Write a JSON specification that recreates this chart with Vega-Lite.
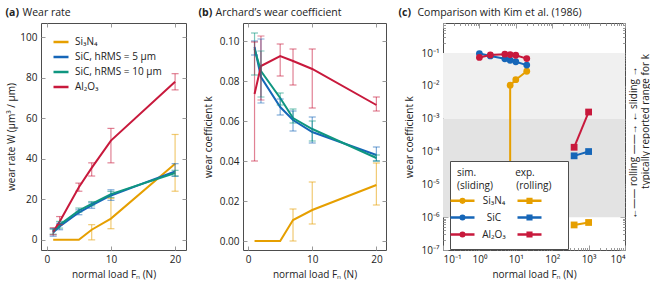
{
  "$schema": "https://vega.github.io/schema/vega-lite/v6.json",
  "padding": {"left": 4, "top": 6, "right": 0, "bottom": 0},
  "spacing": 10,
  "config": {
    "font": "Open Sans",
    "view": {"stroke": "#4d4d4d", "strokeWidth": 1},
    "axis": {"labelFontSize": 10, "titleFontSize": 10, "labelColor": "#222", "titleColor": "#222", "tickColor": "#9a9a9a", "tickWidth": 1, "domain": false, "grid": false, "titleFontWeight": "normal", "zindex": 1},
    "legend": {"labelFontSize": 10, "labelColor": "#222", "titleFontWeight": "normal", "titleColor": "#222", "titleFontSize": 10}
  },
  "resolve": {"scale": {"color": "independent"}, "legend": {"color": "independent"}},
  "datasets": {
    "ab": [
      {"material": "Si₃N₄", "load": 1, "W": 0, "Wlo": null, "Whi": null, "k": 0, "klo": null, "khi": null},
      {"material": "Si₃N₄", "load": 2, "W": 0, "Wlo": null, "Whi": null, "k": 0, "klo": null, "khi": null},
      {"material": "Si₃N₄", "load": 5, "W": 0, "Wlo": null, "Whi": null, "k": 0, "klo": null, "khi": null},
      {"material": "Si₃N₄", "load": 7, "W": 5, "Wlo": 0, "Whi": 7.5, "k": 0.0105, "klo": 0, "khi": 0.016},
      {"material": "Si₃N₄", "load": 10, "W": 10.5, "Wlo": 5.5, "Whi": 20.5, "k": 0.0155, "klo": 0.0085, "khi": 0.0295},
      {"material": "Si₃N₄", "load": 20, "W": 37.5, "Wlo": 24, "Whi": 52, "k": 0.028, "klo": 0.018, "khi": 0.039},
      {"material": "SiC, hRMS = 5 µm", "load": 1, "W": 3.6, "Wlo": 1.8, "Whi": 5.6, "k": 0.097, "klo": 0.093, "khi": 0.1},
      {"material": "SiC, hRMS = 5 µm", "load": 2, "W": 6.6, "Wlo": 5, "Whi": 8.2, "k": 0.082, "klo": 0.069, "khi": 0.101},
      {"material": "SiC, hRMS = 5 µm", "load": 5, "W": 13.5, "Wlo": 12.4, "Whi": 14.8, "k": 0.067, "klo": 0.063, "khi": 0.071},
      {"material": "SiC, hRMS = 5 µm", "load": 7, "W": 17, "Wlo": 15.6, "Whi": 18.3, "k": 0.0605, "klo": 0.055, "khi": 0.065},
      {"material": "SiC, hRMS = 5 µm", "load": 10, "W": 21.9, "Wlo": 19.5, "Whi": 24.7, "k": 0.0545, "klo": 0.049, "khi": 0.062},
      {"material": "SiC, hRMS = 5 µm", "load": 20, "W": 33.8, "Wlo": 31.3, "Whi": 37.6, "k": 0.043, "klo": 0.04, "khi": 0.047},
      {"material": "SiC, hRMS = 10 µm", "load": 1, "W": 4.1, "Wlo": 2.8, "Whi": 5.3, "k": 0.096, "klo": 0.083, "khi": 0.104},
      {"material": "SiC, hRMS = 10 µm", "load": 2, "W": 7.4, "Wlo": 5.8, "Whi": 9.1, "k": 0.085, "klo": 0.072, "khi": 0.095},
      {"material": "SiC, hRMS = 10 µm", "load": 5, "W": 14.5, "Wlo": 13.7, "Whi": 15.7, "k": 0.0715, "klo": 0.068, "khi": 0.074},
      {"material": "SiC, hRMS = 10 µm", "load": 7, "W": 17.8, "Wlo": 16.8, "Whi": 18.9, "k": 0.0615, "klo": 0.059, "khi": 0.066},
      {"material": "SiC, hRMS = 10 µm", "load": 10, "W": 22.6, "Wlo": 20.9, "Whi": 23.9, "k": 0.056, "klo": 0.05, "khi": 0.06},
      {"material": "SiC, hRMS = 10 µm", "load": 20, "W": 33, "Wlo": 31.6, "Whi": 34.3, "k": 0.0415, "klo": 0.04, "khi": 0.043},
      {"material": "Al₂O₃", "load": 1, "W": 4, "Wlo": 2.5, "Whi": 6, "k": 0.0735, "klo": 0.04, "khi": 0.0995},
      {"material": "Al₂O₃", "load": 2, "W": 9, "Wlo": 7.5, "Whi": 11.5, "k": 0.0875, "klo": 0.0705, "khi": 0.1025},
      {"material": "Al₂O₃", "load": 5, "W": 26, "Wlo": 24, "Whi": 28, "k": 0.0925, "klo": 0.0825, "khi": 0.0985},
      {"material": "Al₂O₃", "load": 7, "W": 35.5, "Wlo": 31.5, "Whi": 38, "k": 0.09, "klo": 0.078, "khi": 0.096},
      {"material": "Al₂O₃", "load": 10, "W": 49, "Wlo": 38, "Whi": 55, "k": 0.086, "klo": 0.0665, "khi": 0.096},
      {"material": "Al₂O₃", "load": 20, "W": 78, "Wlo": 74, "Whi": 82, "k": 0.068, "klo": 0.065, "khi": 0.072}
    ],
    "c": [
      {"series": "sim Si₃N₄", "kind": "sim", "load": 7, "k": 0.0105},
      {"series": "sim Si₃N₄", "kind": "sim", "load": 10, "k": 0.0155},
      {"series": "sim Si₃N₄", "kind": "sim", "load": 20, "k": 0.028},
      {"series": "sim SiC", "kind": "sim", "load": 1, "k": 0.097},
      {"series": "sim SiC", "kind": "sim", "load": 2, "k": 0.082},
      {"series": "sim SiC", "kind": "sim", "load": 5, "k": 0.067},
      {"series": "sim SiC", "kind": "sim", "load": 7, "k": 0.0605},
      {"series": "sim SiC", "kind": "sim", "load": 10, "k": 0.0545},
      {"series": "sim SiC", "kind": "sim", "load": 20, "k": 0.043},
      {"series": "sim Al₂O₃", "kind": "sim", "load": 1, "k": 0.0735},
      {"series": "sim Al₂O₃", "kind": "sim", "load": 2, "k": 0.0875},
      {"series": "sim Al₂O₃", "kind": "sim", "load": 5, "k": 0.0925},
      {"series": "sim Al₂O₃", "kind": "sim", "load": 7, "k": 0.09},
      {"series": "sim Al₂O₃", "kind": "sim", "load": 10, "k": 0.086},
      {"series": "sim Al₂O₃", "kind": "sim", "load": 20, "k": 0.068},
      {"series": "exp Si₃N₄", "kind": "exp", "load": 400, "k": 5.8e-7},
      {"series": "exp Si₃N₄", "kind": "exp", "load": 1000, "k": 6.9e-7},
      {"series": "exp SiC", "kind": "exp", "load": 400, "k": 7.4e-5},
      {"series": "exp SiC", "kind": "exp", "load": 1000, "k": 1.0e-4},
      {"series": "exp Al₂O₃", "kind": "exp", "load": 400, "k": 1.35e-4},
      {"series": "exp Al₂O₃", "kind": "exp", "load": 1000, "k": 1.6e-3}
    ],
    "bands": [
      {"regime": "sliding", "lo": 0.001, "hi": 0.1},
      {"regime": "rolling", "lo": 1e-6, "hi": 0.001}
    ]
  },
  "hconcat": [
    {
      "width": 145, "height": 227,
      "data": {"name": "ab"},
      "layer": [
        {"mark": {"type": "point", "opacity": 0},
         "encoding": {
           "x": {"field": "load", "type": "quantitative", "scale": {"domain": [-0.9, 21.7], "nice": false, "zero": false},
                 "axis": {"orient": "bottom", "values": [0, 10, 20], "tickSize": -4, "labelPadding": 8, "title": "normal load Fₙ (N)", "titlePadding": 5}},
           "y": {"field": "W", "type": "quantitative", "scale": {"domain": [-5, 107], "nice": false, "zero": false},
                 "axis": {"orient": "left", "values": [0, 20, 40, 60, 80, 100], "tickSize": -4, "labelPadding": 8, "title": "wear rate W (µm³ / µm)", "titlePadding": 4, "minExtent": 21, "maxExtent": 21}}
         }},
        {"mark": {"type": "point", "opacity": 0},
         "encoding": {
           "x": {"field": "load", "type": "quantitative", "scale": {"domain": [-0.9, 21.7], "nice": false, "zero": false},
                 "axis": {"orient": "top", "values": [0, 10, 20], "tickSize": -4, "labels": false, "title": "Wear rate", "titleX": -19, "titleY": -8, "titleAlign": "left", "titleBaseline": "alphabetic", "titleAngle": 0, "titleFontSize": 10.5, "minExtent": 0, "maxExtent": 0}},
           "y": {"field": "W", "type": "quantitative", "scale": {"domain": [-5, 107], "nice": false, "zero": false},
                 "axis": {"orient": "right", "values": [0, 20, 40, 60, 80, 100], "tickSize": -4, "labels": false, "title": null, "minExtent": 0, "maxExtent": 0}}
         }},
        {"mark": {"type": "point", "opacity": 0},
         "encoding": {
           "x": {"field": "load", "type": "quantitative", "scale": {"domain": [-0.9, 21.7], "nice": false, "zero": false},
                 "axis": {"orient": "top", "ticks": false, "labels": false, "title": "(a)", "titleX": -36, "titleY": -8, "titleAlign": "left", "titleBaseline": "alphabetic", "titleAngle": 0, "titleFontWeight": "bold", "titleFontSize": 10.5, "minExtent": 0, "maxExtent": 0}},
           "y": {"field": "W", "type": "quantitative", "scale": {"domain": [-5, 107], "nice": false, "zero": false}, "axis": null}
         }},
        {"mark": {"type": "line", "strokeWidth": 2},
         "encoding": {
           "x": {"field": "load", "type": "quantitative", "scale": {"domain": [-0.9, 21.7], "nice": false, "zero": false}, "axis": null},
           "y": {"field": "W", "type": "quantitative", "scale": {"domain": [-5, 107], "nice": false, "zero": false}, "axis": null},
           "color": {"field": "material", "type": "nominal",
                     "scale": {"domain": ["Si₃N₄", "SiC, hRMS = 5 µm", "SiC, hRMS = 10 µm", "Al₂O₃"], "range": ["#e69f00", "#1666b8", "#0f9680", "#c8193c"]},
                     "legend": {"orient": "none", "legendX": 11, "legendY": 10, "title": null, "symbolType": "stroke", "symbolSize": 225, "symbolStrokeWidth": 2.5, "rowPadding": 1, "labelOffset": 5, "padding": 0}}
         }},
        {"mark": {"type": "rule", "strokeWidth": 1.2, "opacity": 0.55},
         "encoding": {
           "x": {"field": "load", "type": "quantitative", "scale": {"domain": [-0.9, 21.7], "nice": false, "zero": false}, "axis": null},
           "y": {"field": "Wlo", "type": "quantitative", "scale": {"domain": [-5, 107], "nice": false, "zero": false}, "axis": null},
           "y2": {"field": "Whi"},
           "color": {"field": "material", "type": "nominal", "scale": {"domain": ["Si₃N₄", "SiC, hRMS = 5 µm", "SiC, hRMS = 10 µm", "Al₂O₃"], "range": ["#e69f00", "#1666b8", "#0f9680", "#c8193c"]}, "legend": null}
         }},
        {"mark": {"type": "tick", "orient": "horizontal", "size": 7, "thickness": 1.2, "opacity": 0.55},
         "encoding": {
           "x": {"field": "load", "type": "quantitative", "scale": {"domain": [-0.9, 21.7], "nice": false, "zero": false}, "axis": null},
           "y": {"field": "Wlo", "type": "quantitative", "scale": {"domain": [-5, 107], "nice": false, "zero": false}, "axis": null},
           "color": {"field": "material", "type": "nominal", "scale": {"domain": ["Si₃N₄", "SiC, hRMS = 5 µm", "SiC, hRMS = 10 µm", "Al₂O₃"], "range": ["#e69f00", "#1666b8", "#0f9680", "#c8193c"]}, "legend": null}
         }},
        {"mark": {"type": "tick", "orient": "horizontal", "size": 7, "thickness": 1.2, "opacity": 0.55},
         "encoding": {
           "x": {"field": "load", "type": "quantitative", "scale": {"domain": [-0.9, 21.7], "nice": false, "zero": false}, "axis": null},
           "y": {"field": "Whi", "type": "quantitative", "scale": {"domain": [-5, 107], "nice": false, "zero": false}, "axis": null},
           "color": {"field": "material", "type": "nominal", "scale": {"domain": ["Si₃N₄", "SiC, hRMS = 5 µm", "SiC, hRMS = 10 µm", "Al₂O₃"], "range": ["#e69f00", "#1666b8", "#0f9680", "#c8193c"]}, "legend": null}
         }}
      ],
      "resolve": {"axis": {"x": "independent", "y": "independent"}}
    },
    {
      "width": 143, "height": 227,
      "data": {"name": "ab"},
      "layer": [
        {"mark": {"type": "point", "opacity": 0},
         "encoding": {
           "x": {"field": "load", "type": "quantitative", "scale": {"domain": [-0.8, 21.5], "nice": false, "zero": false},
                 "axis": {"orient": "bottom", "values": [0, 10, 20], "tickSize": -4, "labelPadding": 8, "title": "normal load Fₙ (N)", "titlePadding": 5}},
           "y": {"field": "k", "type": "quantitative", "scale": {"domain": [-0.0045, 0.109], "nice": false, "zero": false},
                 "axis": {"orient": "left", "values": [0, 0.02, 0.04, 0.06, 0.08, 0.1], "format": ".2f", "tickSize": -4, "labelPadding": 8, "title": "wear coefficient k", "titlePadding": 5, "minExtent": 25, "maxExtent": 25}}
         }},
        {"mark": {"type": "point", "opacity": 0},
         "encoding": {
           "x": {"field": "load", "type": "quantitative", "scale": {"domain": [-0.8, 21.5], "nice": false, "zero": false},
                 "axis": {"orient": "top", "values": [0, 10, 20], "tickSize": -4, "labels": false, "title": "Archard’s wear coefficient", "titleX": -28, "titleY": -8, "titleAlign": "left", "titleBaseline": "alphabetic", "titleAngle": 0, "titleFontSize": 10.5, "minExtent": 0, "maxExtent": 0}},
           "y": {"field": "k", "type": "quantitative", "scale": {"domain": [-0.0045, 0.109], "nice": false, "zero": false},
                 "axis": {"orient": "right", "values": [0, 0.02, 0.04, 0.06, 0.08, 0.1], "tickSize": -4, "labels": false, "title": null, "minExtent": 0, "maxExtent": 0}}
         }},
        {"mark": {"type": "point", "opacity": 0},
         "encoding": {
           "x": {"field": "load", "type": "quantitative", "scale": {"domain": [-0.8, 21.5], "nice": false, "zero": false},
                 "axis": {"orient": "top", "ticks": false, "labels": false, "title": "(b)", "titleX": -45, "titleY": -8, "titleAlign": "left", "titleBaseline": "alphabetic", "titleAngle": 0, "titleFontWeight": "bold", "titleFontSize": 10.5, "minExtent": 0, "maxExtent": 0}},
           "y": {"field": "k", "type": "quantitative", "scale": {"domain": [-0.0045, 0.109], "nice": false, "zero": false}, "axis": null}
         }},
        {"mark": {"type": "line", "strokeWidth": 2},
         "encoding": {
           "x": {"field": "load", "type": "quantitative", "scale": {"domain": [-0.8, 21.5], "nice": false, "zero": false}, "axis": null},
           "y": {"field": "k", "type": "quantitative", "scale": {"domain": [-0.0045, 0.109], "nice": false, "zero": false}, "axis": null},
           "color": {"field": "material", "type": "nominal", "scale": {"domain": ["Si₃N₄", "SiC, hRMS = 5 µm", "SiC, hRMS = 10 µm", "Al₂O₃"], "range": ["#e69f00", "#1666b8", "#0f9680", "#c8193c"]}, "legend": null}
         }},
        {"mark": {"type": "rule", "strokeWidth": 1.2, "opacity": 0.55},
         "encoding": {
           "x": {"field": "load", "type": "quantitative", "scale": {"domain": [-0.8, 21.5], "nice": false, "zero": false}, "axis": null},
           "y": {"field": "klo", "type": "quantitative", "scale": {"domain": [-0.0045, 0.109], "nice": false, "zero": false}, "axis": null},
           "y2": {"field": "khi"},
           "color": {"field": "material", "type": "nominal", "scale": {"domain": ["Si₃N₄", "SiC, hRMS = 5 µm", "SiC, hRMS = 10 µm", "Al₂O₃"], "range": ["#e69f00", "#1666b8", "#0f9680", "#c8193c"]}, "legend": null}
         }},
        {"mark": {"type": "tick", "orient": "horizontal", "size": 7, "thickness": 1.2, "opacity": 0.55},
         "encoding": {
           "x": {"field": "load", "type": "quantitative", "scale": {"domain": [-0.8, 21.5], "nice": false, "zero": false}, "axis": null},
           "y": {"field": "klo", "type": "quantitative", "scale": {"domain": [-0.0045, 0.109], "nice": false, "zero": false}, "axis": null},
           "color": {"field": "material", "type": "nominal", "scale": {"domain": ["Si₃N₄", "SiC, hRMS = 5 µm", "SiC, hRMS = 10 µm", "Al₂O₃"], "range": ["#e69f00", "#1666b8", "#0f9680", "#c8193c"]}, "legend": null}
         }},
        {"mark": {"type": "tick", "orient": "horizontal", "size": 7, "thickness": 1.2, "opacity": 0.55},
         "encoding": {
           "x": {"field": "load", "type": "quantitative", "scale": {"domain": [-0.8, 21.5], "nice": false, "zero": false}, "axis": null},
           "y": {"field": "khi", "type": "quantitative", "scale": {"domain": [-0.0045, 0.109], "nice": false, "zero": false}, "axis": null},
           "color": {"field": "material", "type": "nominal", "scale": {"domain": ["Si₃N₄", "SiC, hRMS = 5 µm", "SiC, hRMS = 10 µm", "Al₂O₃"], "range": ["#e69f00", "#1666b8", "#0f9680", "#c8193c"]}, "legend": null}
         }}
      ],
      "resolve": {"axis": {"x": "independent", "y": "independent"}}
    },
    {
      "width": 182, "height": 227,
      "data": {"name": "c"},
      "layer": [
        {"data": {"name": "bands"},
         "mark": {"type": "rect"},
         "encoding": {
           "x": {"datum": 0.1, "type": "quantitative", "scale": {"type": "log", "domain": [0.1, 10000], "nice": false}, "axis": null},
           "x2": {"datum": 10000},
           "y": {"field": "lo", "type": "quantitative", "scale": {"type": "log", "domain": [1e-7, 0.826], "nice": false, "clamp": true}, "axis": null},
           "y2": {"field": "hi"},
           "fill": {"field": "regime", "type": "nominal", "scale": {"domain": ["sliding", "rolling"], "range": ["#f0f0f0", "#e3e3e3"]}, "legend": null}
         }},
        {"mark": {"type": "point", "opacity": 0},
         "encoding": {
           "x": {"field": "load", "type": "quantitative", "scale": {"type": "log", "domain": [0.1, 10000], "nice": false},
                 "axis": {"orient": "bottom", "values": [0.1, 1, 10, 100, 1000, 10000], "labelExpr": "'10' + (datum.value < 1 ? '⁻' : '') + ['⁰','¹','²','³','⁴','⁵','⁶','⁷','⁸','⁹'][round(abs(log(datum.value) / LN10))]", "tickSize": -5, "labelPadding": 9, "title": "normal load Fₙ (N)", "titlePadding": 5}},
           "y": {"field": "k", "type": "quantitative", "scale": {"type": "log", "domain": [1e-7, 0.826], "nice": false, "clamp": true},
                 "axis": {"orient": "left", "values": [1e-7, 1e-6, 1e-5, 1e-4, 1e-3, 1e-2, 1e-1], "labelExpr": "'10' + (datum.value < 1 ? '⁻' : '') + ['⁰','¹','²','³','⁴','⁵','⁶','⁷','⁸','⁹'][round(abs(log(datum.value) / LN10))]", "tickSize": -5, "labelPadding": 9, "title": "wear coefficient k", "titlePadding": 6, "minExtent": 23, "maxExtent": 23}}
         }},
        {"mark": {"type": "point", "opacity": 0},
         "encoding": {
           "x": {"field": "load", "type": "quantitative", "scale": {"type": "log", "domain": [0.1, 10000], "nice": false},
                 "axis": {"orient": "bottom", "values": [0.2, 0.3, 0.4, 0.5, 0.6, 0.7, 0.8, 0.9, 2, 3, 4, 5, 6, 7, 8, 9, 20, 30, 40, 50, 60, 70, 80, 90, 200, 300, 400, 500, 600, 700, 800, 900, 2000, 3000, 4000, 5000, 6000, 7000, 8000, 9000], "tickSize": -2.5, "labels": false, "title": null, "minExtent": 0, "maxExtent": 0}},
           "y": {"field": "k", "type": "quantitative", "scale": {"type": "log", "domain": [1e-7, 0.826], "nice": false, "clamp": true},
                 "axis": {"orient": "left", "values": [2e-7, 3e-7, 4e-7, 5e-7, 6e-7, 7e-7, 8e-7, 9e-7, 2e-6, 3e-6, 4e-6, 5e-6, 6e-6, 7e-6, 8e-6, 9e-6, 2e-5, 3e-5, 4e-5, 5e-5, 6e-5, 7e-5, 8e-5, 9e-5, 2e-4, 3e-4, 4e-4, 5e-4, 6e-4, 7e-4, 8e-4, 9e-4, 0.002, 0.003, 0.004, 0.005, 0.006, 0.007, 0.008, 0.009, 0.02, 0.03, 0.04, 0.05, 0.06, 0.07, 0.08, 0.09, 0.2, 0.3, 0.4, 0.5, 0.6, 0.7, 0.8], "tickSize": -2.5, "labels": false, "title": null, "minExtent": 0, "maxExtent": 0}}
         }},
        {"mark": {"type": "point", "opacity": 0},
         "encoding": {
           "x": {"field": "load", "type": "quantitative", "scale": {"type": "log", "domain": [0.1, 10000], "nice": false},
                 "axis": {"orient": "top", "values": [0.1, 1, 10, 100, 1000, 10000], "tickSize": -5, "labels": false, "title": "Comparison with Kim et al. (1986)", "titleX": -26, "titleY": -8, "titleAlign": "left", "titleBaseline": "alphabetic", "titleAngle": 0, "titleFontSize": 10.5, "minExtent": 0, "maxExtent": 0}},
           "y": {"field": "k", "type": "quantitative", "scale": {"type": "log", "domain": [1e-7, 0.826], "nice": false, "clamp": true},
                 "axis": {"orient": "right", "values": [1e-7, 1e-6, 1e-5, 1e-4, 1e-3, 1e-2, 1e-1], "tickSize": -5, "labels": false, "title": "←—— rolling ——→  ← sliding →", "titleX": 8, "titleY": 119, "titleAngle": 270, "titleBaseline": "middle", "titleAlign": "center", "minExtent": 0, "maxExtent": 0}}
         }},
        {"mark": {"type": "point", "opacity": 0},
         "encoding": {
           "x": {"field": "load", "type": "quantitative", "scale": {"type": "log", "domain": [0.1, 10000], "nice": false},
                 "axis": {"orient": "top", "values": [0.2, 0.3, 0.4, 0.5, 0.6, 0.7, 0.8, 0.9, 2, 3, 4, 5, 6, 7, 8, 9, 20, 30, 40, 50, 60, 70, 80, 90, 200, 300, 400, 500, 600, 700, 800, 900, 2000, 3000, 4000, 5000, 6000, 7000, 8000, 9000], "tickSize": -2.5, "labels": false, "title": "(c)", "titleX": -45, "titleY": -8, "titleAlign": "left", "titleBaseline": "alphabetic", "titleAngle": 0, "titleFontWeight": "bold", "titleFontSize": 10.5, "minExtent": 0, "maxExtent": 0}},
           "y": {"field": "k", "type": "quantitative", "scale": {"type": "log", "domain": [1e-7, 0.826], "nice": false, "clamp": true},
                 "axis": {"orient": "right", "values": [2e-7, 3e-7, 4e-7, 5e-7, 6e-7, 7e-7, 8e-7, 9e-7, 2e-6, 3e-6, 4e-6, 5e-6, 6e-6, 7e-6, 8e-6, 9e-6, 2e-5, 3e-5, 4e-5, 5e-5, 6e-5, 7e-5, 8e-5, 9e-5, 2e-4, 3e-4, 4e-4, 5e-4, 6e-4, 7e-4, 8e-4, 9e-4, 0.002, 0.003, 0.004, 0.005, 0.006, 0.007, 0.008, 0.009, 0.02, 0.03, 0.04, 0.05, 0.06, 0.07, 0.08, 0.09, 0.2, 0.3, 0.4, 0.5, 0.6, 0.7, 0.8], "tickSize": -2.5, "labels": false, "title": "typically reported range for k", "titleX": 20, "titleY": 98, "titleAngle": 270, "titleBaseline": "middle", "titleAlign": "center", "minExtent": 0, "maxExtent": 0}}
         }},
        {"mark": {"type": "line", "strokeWidth": 2},
         "encoding": {
           "x": {"field": "load", "type": "quantitative", "scale": {"type": "log", "domain": [0.1, 10000], "nice": false}, "axis": null},
           "y": {"field": "k", "type": "quantitative", "scale": {"type": "log", "domain": [1e-7, 0.826], "nice": false, "clamp": true}, "axis": null},
           "color": {"field": "series", "type": "nominal",
                     "scale": {"domain": ["sim Si₃N₄", "sim SiC", "sim Al₂O₃", "exp Si₃N₄", "exp SiC", "exp Al₂O₃"], "range": ["#e69f00", "#1666b8", "#c8193c", "#e69f00", "#1666b8", "#c8193c"]},
                     "legend": {
                       "orient": "none", "legendX": 7, "legendY": 138, "columns": 2,
                       "title": ["\u00a0\u00a0sim.\u00a0\u00a0\u00a0\u00a0\u00a0\u00a0\u00a0\u00a0\u00a0\u00a0\u00a0\u00a0\u00a0\u00a0\u00a0exp.", "(sliding)\u00a0\u00a0\u00a0\u00a0\u00a0\u00a0\u00a0\u00a0\u00a0(rolling)"], "titleLineHeight": 13, "titlePadding": 4,
                       "padding": 7, "strokeColor": "#4d4d4d", "fillColor": "white", "cornerRadius": 0,
                       "symbolSize": 64, "symbolStrokeWidth": 3,
                       "symbolType": "M-3,0H3M0.4,0A0.4,0.4,0,1,1,-0.4,0A0.4,0.4,0,1,1,0.4,0Z",
                       "labelAlign": "center", "labelOffset": 26, "rowPadding": 2, "columnPadding": 6,
                       "labelExpr": "indexof(datum.value, 'sim') == 0 ? slice(datum.value, 4) : ''",
                       "encode": {"symbols": {"update": {
                         "shape": {"signal": "indexof(datum.value, 'exp') == 0 ? 'M-3,0H3M-0.45,-0.45H0.45V0.45H-0.45Z' : 'M-3,0H3M0.45,0A0.45,0.45,0,1,1,-0.45,0A0.45,0.45,0,1,1,0.45,0Z'"},
                         "fill": {"signal": "indexof(datum.value, 'Si₃N₄') >= 0 ? '#e69f00' : indexof(datum.value, 'SiC') >= 0 ? '#1666b8' : '#c8193c'"},
                         "stroke": {"signal": "indexof(datum.value, 'Si₃N₄') >= 0 ? '#e69f00' : indexof(datum.value, 'SiC') >= 0 ? '#1666b8' : '#c8193c'"},
                         "strokeWidth": {"value": 2.5},
                         "opacity": {"value": 1}
                       }}}
                     }}
         }},
        {"transform": [{"filter": "datum.series == 'sim Si₃N₄' && datum.load == 7"}],
         "mark": {"type": "rule", "strokeWidth": 2},
         "encoding": {
           "x": {"field": "load", "type": "quantitative", "scale": {"type": "log", "domain": [0.1, 10000], "nice": false}, "axis": null},
           "y": {"field": "k", "type": "quantitative", "scale": {"type": "log", "domain": [1e-7, 0.826], "nice": false, "clamp": true}, "axis": null},
           "y2": {"datum": 0},
           "color": {"field": "series", "type": "nominal", "scale": {"domain": ["sim Si₃N₄", "sim SiC", "sim Al₂O₃", "exp Si₃N₄", "exp SiC", "exp Al₂O₃"], "range": ["#e69f00", "#1666b8", "#c8193c", "#e69f00", "#1666b8", "#c8193c"]}, "legend": null}
         }},
        {"mark": {"type": "point", "filled": true, "size": 46, "opacity": 1},
         "encoding": {
           "x": {"field": "load", "type": "quantitative", "scale": {"type": "log", "domain": [0.1, 10000], "nice": false}, "axis": null},
           "y": {"field": "k", "type": "quantitative", "scale": {"type": "log", "domain": [1e-7, 0.826], "nice": false, "clamp": true}, "axis": null},
           "color": {"field": "series", "type": "nominal", "scale": {"domain": ["sim Si₃N₄", "sim SiC", "sim Al₂O₃", "exp Si₃N₄", "exp SiC", "exp Al₂O₃"], "range": ["#e69f00", "#1666b8", "#c8193c", "#e69f00", "#1666b8", "#c8193c"]}, "legend": null},
           "shape": {"field": "kind", "type": "nominal", "scale": {"domain": ["sim", "exp"], "range": ["circle", "square"]}, "legend": null}
         }}
      ],
      "resolve": {"axis": {"x": "independent", "y": "independent"}}
    }
  ]
}
